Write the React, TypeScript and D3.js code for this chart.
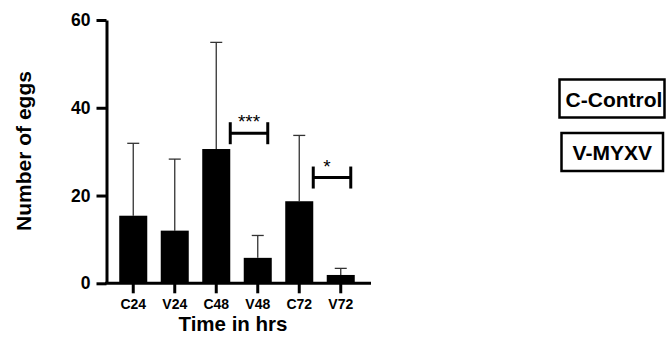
import React, { useEffect, useRef } from 'react';
import * as d3 from 'd3';

// Chart data
const categories = ['C24', 'V24', 'C48', 'V48', 'C72', 'V72'];
const means = [15.4, 12.0, 30.6, 5.8, 18.7, 1.9];
const upperErrors = [31.9, 28.3, 54.9, 10.9, 33.7, 3.4];
const yTicks = [0, 20, 40, 60];
const legendLabels = ['C-Control', 'V-MYXV'];
const sigPairs = [
    { from: 'C48', to: 'V48', y: 34.2, label: '***' },
    { from: 'C72', to: 'V72', y: 24.1, label: '*' }
];

const FONT = '"Liberation Sans", Arial, sans-serif';

const App = () => {
    const chartRef = useRef<SVGSVGElement>(null);

    useEffect(() => {
        const svg = d3.select(chartRef.current);
        svg.selectAll('*').remove();

        const x = d3.scaleBand()
            .domain(categories)
            .range([112.5, 361.5])
            .paddingInner(0.325)
            .paddingOuter(0.1625);

        const y = d3.scaleLinear()
            .domain([0, 60])
            .range([283.3, 20]);

        const data = categories.map((c, i) => ({ cat: c, mean: means[i], upper: upperErrors[i] }));

        // Error bars (upper only), drawn behind the bars
        const err = svg.append('g').attr('stroke', '#333').attr('stroke-width', 1.3);
        err.selectAll('line.stem')
            .data(data)
            .enter()
            .append('line')
            .attr('x1', d => x(d.cat)! + x.bandwidth() / 2)
            .attr('x2', d => x(d.cat)! + x.bandwidth() / 2)
            .attr('y1', d => y(d.mean))
            .attr('y2', d => y(d.upper));
        err.selectAll('line.cap')
            .data(data)
            .enter()
            .append('line')
            .attr('x1', d => x(d.cat)! + x.bandwidth() / 2 - 6)
            .attr('x2', d => x(d.cat)! + x.bandwidth() / 2 + 6)
            .attr('y1', d => y(d.upper))
            .attr('y2', d => y(d.upper));

        // Bars
        svg.append('g')
            .selectAll('rect')
            .data(data)
            .enter()
            .append('rect')
            .attr('x', d => x(d.cat)!)
            .attr('y', d => y(d.mean))
            .attr('width', x.bandwidth())
            .attr('height', d => y(0) - y(d.mean))
            .attr('fill', '#000');

        // Y axis
        const yAxis = svg.append('g')
            .attr('transform', 'translate(106.5,0)')
            .call(d3.axisLeft(y).tickValues(yTicks).tickSize(10).tickPadding(6).tickSizeOuter(0));
        yAxis.select('.domain').attr('stroke-width', 3);
        yAxis.selectAll('.tick line').attr('stroke-width', 3);
        yAxis.selectAll('.tick text')
            .attr('font-family', FONT)
            .attr('font-weight', 'bold')
            .attr('font-size', 17.5)
            .attr('fill', '#000');

        // X axis
        const xAxis = svg.append('g')
            .attr('transform', `translate(0,${y(0)})`)
            .call(d3.axisBottom(x).tickSize(10).tickPadding(6).tickSizeOuter(0));
        xAxis.select('.domain').remove();
        xAxis.append('line')
            .attr('x1', 105)
            .attr('x2', 371)
            .attr('stroke', '#000')
            .attr('stroke-width', 3);
        xAxis.selectAll('.tick line').attr('stroke-width', 3);
        xAxis.selectAll('.tick text')
            .attr('font-family', FONT)
            .attr('font-weight', 'bold')
            .attr('font-size', 14)
            .attr('fill', '#000');

        // Significance brackets
        sigPairs.forEach(p => {
            const x1 = x(p.from)! + x.bandwidth();
            const x2 = x(p.to)! + x.bandwidth() - 4;
            const yy = y(p.y);
            const g = svg.append('g').attr('stroke', '#000').attr('stroke-width', 3);
            g.append('line').attr('x1', x1).attr('x2', x2).attr('y1', yy).attr('y2', yy);
            g.append('line').attr('x1', x1).attr('x2', x1).attr('y1', yy - 11).attr('y2', yy + 11);
            g.append('line').attr('x1', x2).attr('x2', x2).attr('y1', yy - 11).attr('y2', yy + 11);
            svg.append('text')
                .attr('x', (x1 + x2) / 2 - (p.label.length === 1 ? 5 : 0))
                .attr('y', yy - 5)
                .attr('text-anchor', 'middle')
                .attr('font-family', FONT)
                .attr('font-size', 19)
                .attr('fill', '#000')
                .text(p.label);
        });

        // Axis titles
        svg.append('text')
            .attr('x', 233)
            .attr('y', 331)
            .attr('text-anchor', 'middle')
            .attr('font-family', FONT)
            .attr('font-weight', 'bold')
            .attr('font-size', 20.5)
            .text('Time in hrs');

        svg.append('text')
            .attr('transform', 'translate(31,151) rotate(-90)')
            .attr('text-anchor', 'middle')
            .attr('font-family', FONT)
            .attr('font-weight', 'bold')
            .attr('font-size', 21)
            .text('Number of eggs');

        // Legend boxes
        const boxes = [
            { x: 559.5, y: 79.5, w: 105, h: 38 },
            { x: 561.5, y: 133, w: 101.5, h: 38 }
        ];
        legendLabels.forEach((label, i) => {
            const b = boxes[i];
            svg.append('rect')
                .attr('x', b.x)
                .attr('y', b.y)
                .attr('width', b.w)
                .attr('height', b.h)
                .attr('fill', 'none')
                .attr('stroke', '#000')
                .attr('stroke-width', 2.5);
            svg.append('text')
                .attr('x', b.x + b.w / 2 + (i === 0 ? 2 : 0))
                .attr('y', b.y + 27)
                .attr('text-anchor', 'middle')
                .attr('font-family', FONT)
                .attr('font-weight', 'bold')
                .attr('font-size', 21)
                .text(label);
        });
    }, []);

    return (
        <svg
            ref={chartRef}
            width={666}
            height={339}
            style={{ position: 'absolute', left: 0, top: 0, background: '#fff' }}
        />
    );
};

export default App;
